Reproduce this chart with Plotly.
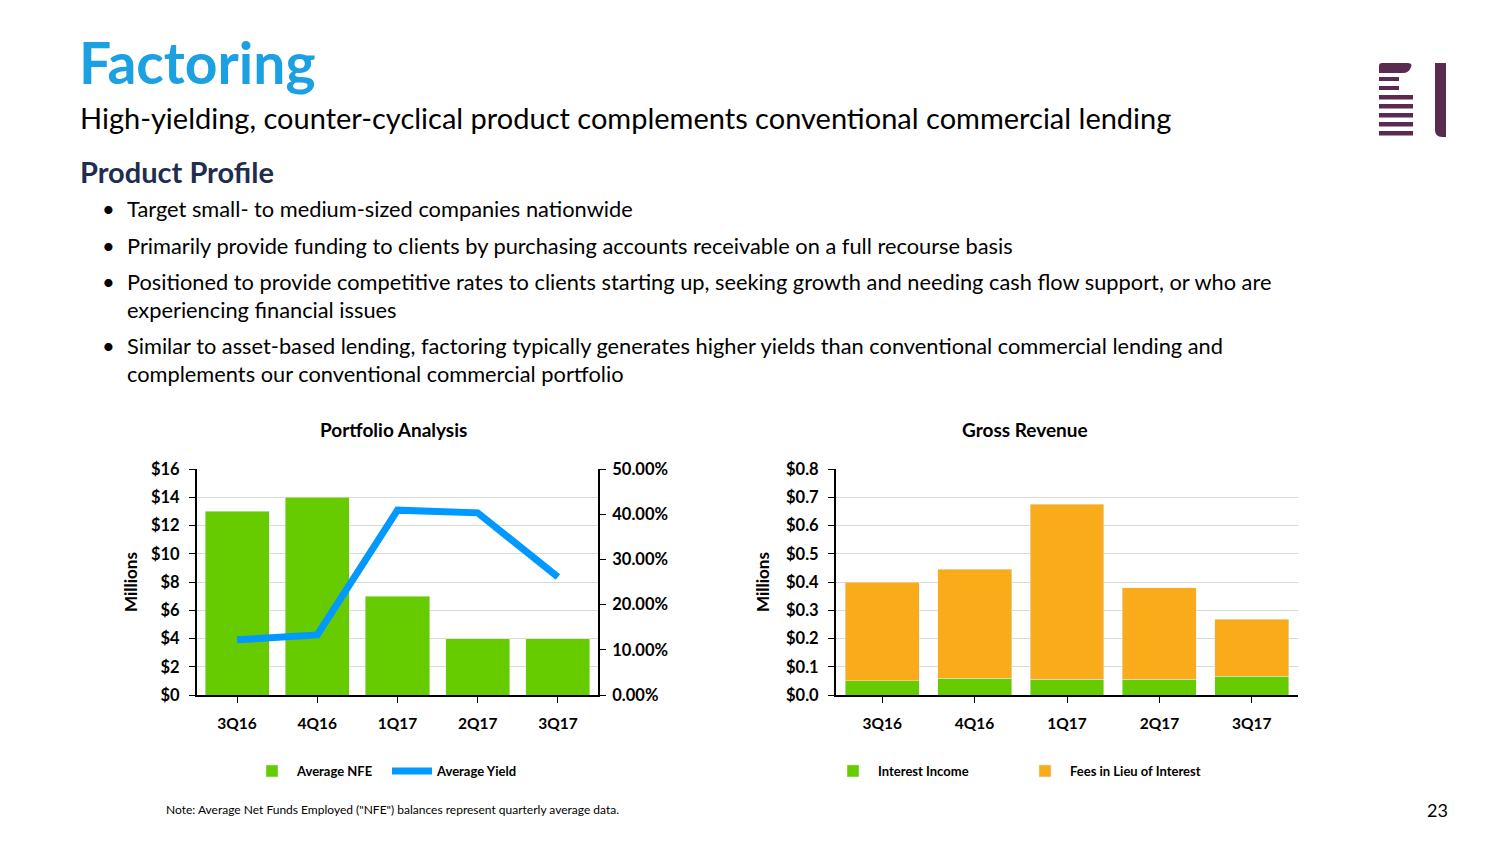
import plotly.graph_objects as go

quarters = ["3Q16", "4Q16", "1Q17", "2Q17", "3Q17"]
avg_nfe = [13.0, 14.0, 7.0, 4.0, 4.0]            # $ millions
avg_yield = [0.122, 0.133, 0.409, 0.403, 0.261]   # fraction
interest_income = [0.050, 0.060, 0.055, 0.055, 0.067]
fees_in_lieu = [0.350, 0.386, 0.621, 0.324, 0.202]

left_ticks = [0, 2, 4, 6, 8, 10, 12, 14, 16]
yield_ticks = [0, 0.1, 0.2, 0.3, 0.4, 0.5]
rev_ticks = [0, 0.1, 0.2, 0.3, 0.4, 0.5, 0.6, 0.7, 0.8]

bullets = [
    ["Target small- to medium-sized companies nationwide"],
    ["Primarily provide funding to clients by purchasing accounts receivable on a full recourse basis"],
    ["Positioned to provide competitive rates to clients starting up, seeking growth and needing cash flow support, or who are",
     "experiencing financial issues"],
    ["Similar to asset-based lending, factoring typically generates higher yields than conventional commercial lending and",
     "complements our conventional commercial portfolio"],
]

W, H = 1504, 846
GREEN = "#66CC00"
BLUE = "#0099FF"
ORANGE = "#F9AB1A"
PURPLE = "#5B2A4F"
FONT = "Lato"


def px(x):
    return x / W


def py(y):
    return 1 - y / H


fig = go.Figure()

fig.add_trace(go.Bar(x=quarters, y=avg_nfe, name="Average NFE", marker_color=GREEN,
                     xaxis="x", yaxis="y", legend="legend"))
fig.add_trace(go.Scatter(x=quarters, y=avg_yield, name="Average Yield", mode="lines",
                         line=dict(color=BLUE, width=7), xaxis="x", yaxis="y2", legend="legend"))
fig.add_trace(go.Bar(x=quarters, y=interest_income, name="Interest Income", marker_color=GREEN,
                     xaxis="x3", yaxis="y3", legend="legend2"))
fig.add_trace(go.Bar(x=quarters, y=fees_in_lieu, name="Fees in Lieu of Interest", marker_color=ORANGE,
                     xaxis="x3", yaxis="y3", legend="legend2"))

ytickfont = dict(family=FONT, size=16.5, color="#000000", weight="bold")
xtickfont = dict(family=FONT, size=15.5, color="#000000", weight="bold")
axis_common = dict(showline=True, linecolor="#000000", linewidth=2, ticks="outside",
                   ticklen=6, tickcolor="#000000", tickwidth=1, automargin=False)

y0, y1 = py(695), py(469)

fig.update_layout(
    width=W, height=H, margin=dict(l=0, r=0, t=0, b=0, autoexpand=False),
    paper_bgcolor="white", plot_bgcolor="white",
    barmode="stack", bargap=0.2,
    font=dict(family=FONT, color="#000000"),
    xaxis=dict(domain=[px(197), px(598)], anchor="y", ticklabelstandoff=7,
               tickfont=xtickfont, **axis_common),
    yaxis=dict(domain=[y0, y1], range=[0, 16], tickmode="array", tickvals=left_ticks,
               ticktext=["$%d" % v for v in left_ticks],
               showgrid=True, gridcolor="#D9D9D9", gridwidth=1, ticklabelstandoff=6,
               zeroline=False, tickfont=ytickfont, **axis_common),
    yaxis2=dict(overlaying="y", side="right", anchor="x", range=[0, 0.5], tickmode="array",
                tickvals=yield_ticks, ticktext=["%.2f%%" % (v * 100) for v in yield_ticks],
                showgrid=False, zeroline=False, ticklabelstandoff=3, tickfont=ytickfont,
                **axis_common),
    xaxis3=dict(domain=[px(836), px(1298)], anchor="y3", ticklabelstandoff=7,
                tickfont=xtickfont, **axis_common),
    yaxis3=dict(domain=[y0, y1], anchor="x3", range=[0, 0.8], tickmode="array",
                tickvals=rev_ticks, ticktext=["$%.1f" % v for v in rev_ticks],
                showgrid=True, gridcolor="#D9D9D9", gridwidth=1,
                ticklabelstandoff=6, zeroline=False, tickfont=ytickfont, **axis_common),
    legend=dict(orientation="h", x=px(247), xanchor="left", y=py(771), yanchor="middle",
                itemwidth=40, entrywidth=85, entrywidthmode="pixels",
                font=dict(family=FONT, size=13, color="#000000", weight="bold"),
                bgcolor="rgba(0,0,0,0)", traceorder="normal"),
    legend2=dict(orientation="h", x=px(828), xanchor="left", y=py(771), yanchor="middle",
                 itemwidth=40, entrywidth=137, entrywidthmode="pixels",
                 font=dict(family=FONT, size=13, color="#000000", weight="bold"),
                 bgcolor="rgba(0,0,0,0)", traceorder="normal"),
    showlegend=True,
)

ann = []


def text(x, y, s, size, color="#000000", bold=False, xanchor="left", angle=0):
    ann.append(dict(xref="paper", yref="paper", x=px(x), y=py(y), text=s, showarrow=False,
                    xanchor=xanchor, yanchor="middle", textangle=angle,
                    font=dict(family=FONT, size=size, color=color,
                              weight="bold" if bold else "normal")))


text(77, 62, "Factoring", 57, color="#1BA1E2", bold=True)
text(78, 117, "High-yielding, counter-cyclical product complements conventional commercial lending", 29)
text(78, 171, "Product Profile", 29, color="#1F2D4F", bold=True)

yy = 209
for b in bullets:
    text(100, yy, "\u2022", 22)
    for i, line in enumerate(b):
        text(125, yy, line, 21.8)
        if i < len(b) - 1:
            yy += 28
    yy += 36

text(393, 430, "Portfolio Analysis", 19, bold=True, xanchor="center")
text(1025, 430, "Gross Revenue", 19, bold=True, xanchor="center")
text(130, 582, "Millions", 17, bold=True, xanchor="center", angle=-90)
text(762, 582, "Millions", 17, bold=True, xanchor="center", angle=-90)
text(164, 809, "Note: Average Net Funds Employed (\"NFE\") balances represent quarterly average data.", 12)
text(1437, 810, "23", 18, xanchor="center")

fig.update_layout(annotations=ann)

# logo
shapes = []


def rect(x0, y0_, x1, y1_):
    shapes.append(dict(type="rect", xref="paper", yref="paper", x0=px(x0), x1=px(x1),
                       y0=py(y1_), y1=py(y0_), fillcolor=PURPLE, line=dict(width=0)))


def path(cmds):
    parts = []
    for c in cmds:
        if isinstance(c, str):
            parts.append(c)
        else:
            parts.append("%.6f,%.6f" % (px(c[0]), py(c[1])))
    shapes.append(dict(type="path", xref="paper", yref="paper", path=" ".join(parts),
                       fillcolor=PURPLE, line=dict(width=0)))


path(["M", (1379, 73), "L", (1379, 66), "Q", (1379, 63), (1382, 63), "L", (1407, 63),
      "Q", (1413, 63), (1411, 67), "Q", (1409, 73), (1403, 73), "Z"])
rect(1379, 77, 1399, 81)
rect(1379, 86, 1399, 90)
for t in [95, 104, 113, 122, 131]:
    rect(1379, t, 1413, t + 4.5)
path(["M", (1435, 63), "L", (1446, 63), "L", (1446, 137), "L", (1442, 137),
      "Q", (1435, 137), (1435, 130), "Z"])
fig.update_layout(shapes=shapes)

fig.write_html("out.html", config={"displayModeBar": False},
               post_script="document.documentElement.style.overflow='hidden';"
                           "document.body.style.margin='0';document.body.style.overflow='hidden';")
